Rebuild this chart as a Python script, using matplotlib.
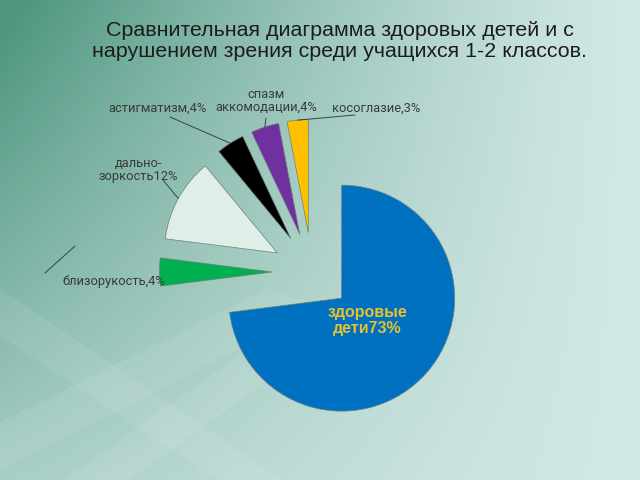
import numpy as np
import matplotlib.pyplot as plt
from matplotlib.patches import Polygon

# data
labels = ['здоровые\nдети73%', 'близорукость,4%', 'дально-\nзоркость12%',
          'астигматизм,4%', 'спазм\nаккомодации,4%', 'косоглазие,3%']
shares = [73, 4, 12, 4, 4, 3]
colors = ['#0070c0', '#00b050', '#e0eee8', '#000000', '#7030a0', '#ffc000']
title = ('Сравнительная диаграмма здоровых детей и с\n'
         'нарушением зрения среди учащихся 1-2 классов.')

W, H = 640, 480
R = 113            # pie radius in px
cx, cy = 312, 272  # pie centre in px (from top left)

fig = plt.figure(figsize=(6.4, 4.8), dpi=100)

# background gradient
bg = fig.add_axes([0, 0, 1, 1])
yy, xx = np.mgrid[0:1:240j, 0:1:320j]
d = np.clip((1 - xx) ** 1.3 * (1 - 0.7 * yy) * 1.05, 0, 1)
light = np.array([210, 232, 229]) / 255
dark = np.array([78, 150, 128]) / 255
img = light + d[..., None] * (dark - light)
bg.imshow(img, extent=[0, 1, 0, 1], aspect='auto', origin='upper')
for pts in ([(0, 0.40), (0, 0.30), (0.34, 0), (0.44, 0)],
            [(0, 0.02), (0, 0.12), (0.42, 0.40), (0.50, 0.36)],
            [(0.10, 0), (0.20, 0), (0.55, 0.33), (0.48, 0.36)]):
    bg.add_patch(Polygon(pts, closed=True, color='white', alpha=0.08, lw=0))
bg.set_xlim(0, 1)
bg.set_ylim(0, 1)
bg.axis('off')

# pie
ax = fig.add_axes([0, 0, 1, 1])
ax.patch.set_alpha(0)
wedges, _ = ax.pie(shares, colors=colors, startangle=90, counterclock=False,
                   explode=[0.35] * len(shares), radius=1,
                   wedgeprops=dict(edgecolor='#6f7f7a', linewidth=0.5))
ax.set_xlim(-cx / R, (W - cx) / R)
ax.set_ylim(-(H - cy) / R, cy / R)
ax.set_aspect('equal')
ax.axis('off')


def anchor(w, r):
    mid = np.deg2rad((w.theta1 + w.theta2) / 2)
    return w.center[0] + r * np.cos(mid), w.center[1] + r * np.sin(mid)


def fpos(px, py):
    return px / W, 1 - py / H


# label inside the big slice
ax.text(*anchor(wedges[0], 0.30), labels[0], ha='center', va='center',
        color='#e6c230', fontsize=11.5, fontweight='bold',
        family=['Liberation Sans', 'DejaVu Sans'], linespacing=1.15)

lab_font = dict(family=['Roboto', 'DejaVu Sans'],
                fontsize=9.3, color='#3a3a3a')
fig.text(*fpos(165, 282), labels[1], ha='right', va='center', **lab_font)
fig.text(*fpos(138, 170), labels[2], ha='center', va='center',
         linespacing=1.05, **lab_font)
fig.text(*fpos(207, 108), labels[3], ha='right', va='center', **lab_font)
fig.text(*fpos(266, 101), labels[4], ha='center', va='center',
         linespacing=1.05, **lab_font)
fig.text(*fpos(332, 108), labels[5], ha='left', va='center', **lab_font)

# leader lines
line = dict(arrowstyle='-', color='#34443f', lw=0.7, shrinkA=0, shrinkB=0)
for i, (px, py) in [(2, (163, 180)), (3, (170, 117)),
                    (4, (266, 118)), (5, (355, 115))]:
    ax.annotate('', xy=anchor(wedges[i], 1.0), xytext=fpos(px, py),
                textcoords='figure fraction', arrowprops=line)
ax.annotate('', xy=fpos(75, 246), xycoords='figure fraction',
            xytext=fpos(45, 273), textcoords='figure fraction',
            arrowprops=line)

fig.text(0.531, 0.915, title, ha='center', va='center', fontsize=15.4,
         color='#1c1c1c', family=['Liberation Sans', 'DejaVu Sans'],
         linespacing=1.1)

fig.savefig('out.png', dpi=100)
